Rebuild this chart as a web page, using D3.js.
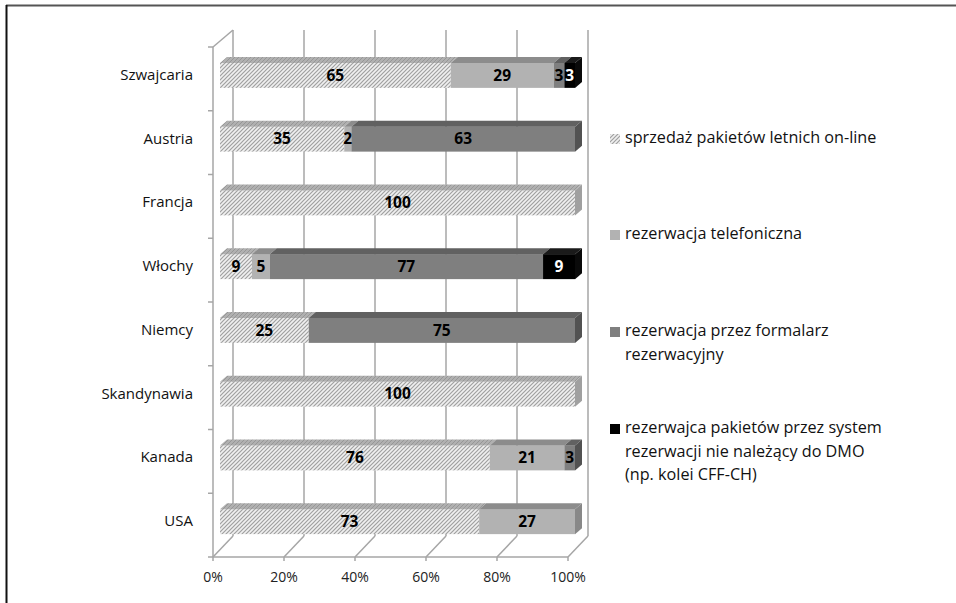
<!DOCTYPE html>
<html>
<head>
<meta charset="utf-8">
<script src="https://cdn.jsdelivr.net/npm/d3@7"></script>
<style>
  html, body { margin: 0; padding: 0; background: #fff; }
  svg { display: block; font-family: "Open Sans", sans-serif; }
</style>
</head>
<body>
<svg id="chart" width="956" height="603"></svg>
<script>
// Countries, top to bottom
const categories = ["Szwajcaria", "Austria", "Francja", "Włochy", "Niemcy", "Skandynawia", "Kanada", "USA"];

// Series (percent share per country)
const seriesNames = [
  "sprzedaż pakietów letnich on-line",
  "rezerwacja telefoniczna",
  "rezerwacja przez formalarz rezerwacyjny",
  "rezerwajca pakietów przez system rezerwacji nie należący do DMO (np. kolei CFF-CH)"
];
const onlineSales   = [65, 35, 100, 9, 25, 100, 76, 73];
const phoneBooking  = [29, 2, 0, 5, 0, 0, 21, 27];
const formBooking   = [3, 63, 0, 77, 75, 0, 3, 0];
const externalSys   = [3, 0, 0, 9, 0, 0, 0, 0];

const xTicks = [0, 20, 40, 60, 80, 100];
const xTickLabels = ["0%", "20%", "40%", "60%", "80%", "100%"];

// Legend text, wrapped as drawn
const legendLines = [
  ["sprzedaż pakietów letnich on-line"],
  ["rezerwacja telefoniczna"],
  ["rezerwacja przez formalarz", "rezerwacyjny"],
  ["rezerwajca pakietów przez system", "rezerwacji nie należący do DMO", "(np. kolei CFF-CH)"]
];

const seriesValues = [onlineSales, phoneBooking, formBooking, externalSys];

const svg = d3.select("#chart");

// Hatch pattern for on-line sales
const defs = svg.append("defs");
const pat = defs.append("pattern")
  .attr("id", "hatch").attr("patternUnits", "userSpaceOnUse")
  .attr("width", 4).attr("height", 4);
pat.append("rect").attr("width", 4).attr("height", 4).attr("fill", "#f0f0f0");
pat.append("path").attr("d", "M-1,1 l2,-2 M0,4 l4,-4 M3,5 l2,-2")
  .attr("stroke", "#a0a0a0").attr("stroke-width", 1.2);
const patTop = defs.append("pattern")
  .attr("id", "hatchTop").attr("patternUnits", "userSpaceOnUse")
  .attr("width", 4).attr("height", 4);
patTop.append("rect").attr("width", 4).attr("height", 4).attr("fill", "#b0b0b0");
patTop.append("path").attr("d", "M-1,1 l2,-2 M0,4 l4,-4 M3,5 l2,-2")
  .attr("stroke", "#969696").attr("stroke-width", 1);

const styles = [
  { front: "url(#hatch)", top: "url(#hatchTop)", side: "#a0a0a0", text: "#000" },
  { front: "#b2b2b2", top: "#8c8c8c", side: "#888888", text: "#000" },
  { front: "#7f7f7f", top: "#616161", side: "#525252", text: "#000" },
  { front: "#000000", top: "#1a1a1a", side: "#0a0a0a", text: "#fff" }
];

// Frame
svg.append("line").attr("x1", 6).attr("y1", 5.5).attr("x2", 956).attr("y2", 5.5)
  .attr("stroke", "#555").attr("stroke-width", 2);
svg.append("line").attr("x1", 6.5).attr("y1", 5).attr("x2", 6.5).attr("y2", 603)
  .attr("stroke", "#111").attr("stroke-width", 2);

// Scales
const x = d3.scaleLinear().domain([0, 100]).range([213, 568]);
const y = d3.scaleBand().domain(categories).range([47, 557]);

// 3D geometry: floor depth and bar plane
const depth = { dx: 20, dy: -21 };
const barShift = { dx: 7, dy: -3.5 };
const barDepth = { dx: 7, dy: -6 };
const barH = 25;
const gridColor = "#a6a6a6";

const g = svg.append("g");

// Back wall gridlines
g.selectAll(".grid").data(xTicks).join("line")
  .attr("x1", d => x(d) + depth.dx).attr("x2", d => x(d) + depth.dx)
  .attr("y1", 30).attr("y2", 557 + depth.dy)
  .attr("stroke", gridColor).attr("stroke-width", 1.5);
// Floor lines
g.selectAll(".floor").data(xTicks).join("line")
  .attr("x1", d => x(d)).attr("y1", 557)
  .attr("x2", d => x(d) + depth.dx).attr("y2", 557 + depth.dy)
  .attr("stroke", gridColor).attr("stroke-width", 1.5);
// Front floor edge and ticks
g.append("line").attr("x1", x(0)).attr("x2", x(100)).attr("y1", 557).attr("y2", 557)
  .attr("stroke", gridColor).attr("stroke-width", 1.5);
g.selectAll(".xtick").data(xTicks).join("line")
  .attr("x1", d => x(d)).attr("x2", d => x(d)).attr("y1", 557).attr("y2", 561)
  .attr("stroke", gridColor).attr("stroke-width", 1.5);
// Left wall edge
g.append("line").attr("x1", x(0)).attr("x2", x(0)).attr("y1", 47).attr("y2", 557)
  .attr("stroke", gridColor).attr("stroke-width", 1.5);
g.append("line").attr("x1", x(0)).attr("y1", 47).attr("x2", x(0) + depth.dx).attr("y2", 30)
  .attr("stroke", gridColor).attr("stroke-width", 1.5);
const bounds = categories.map(c => y(c)).concat([557]);
g.selectAll(".ytick").data(bounds).join("line")
  .attr("x1", x(0) - 5).attr("x2", x(0)).attr("y1", d => d).attr("y2", d => d)
  .attr("stroke", gridColor).attr("stroke-width", 1.5);

// X labels
g.selectAll(".xlab").data(xTicks).join("text")
  .attr("x", d => x(d)).attr("y", 578).attr("text-anchor", "middle")
  .attr("dominant-baseline", "middle").attr("font-size", 14).attr("fill", "#222")
  .text((d, i) => xTickLabels[i]);

// Category labels
g.selectAll(".ylab").data(categories).join("text")
  .attr("x", 193).attr("y", d => y(d) + y.bandwidth() / 2 - 3)
  .attr("text-anchor", "end").attr("dominant-baseline", "middle")
  .attr("font-size", 15).attr("fill", "#111").text(d => d);

// Stacked segments
const xb = v => x(v) + barShift.dx;
const bars = g.append("g");
categories.forEach((cat, ci) => {
  const cy = y(cat) + y.bandwidth() / 2 + barShift.dy;
  const top = cy - barH / 2, bot = cy + barH / 2;
  let acc = 0;
  const segs = [];
  seriesValues.forEach((vals, si) => {
    const v = vals[ci];
    if (v > 0) { segs.push({ si, v, x0: acc, x1: acc + v }); acc += v; }
  });
  segs.forEach(s => {
    const st = styles[s.si];
    const X0 = xb(s.x0), X1 = xb(s.x1);
    bars.append("rect").attr("x", X0).attr("y", top).attr("width", X1 - X0).attr("height", barH)
      .attr("fill", st.front);
    bars.append("path")
      .attr("d", `M${X0},${top}L${X1},${top}L${X1 + barDepth.dx},${top + barDepth.dy}L${X0 + barDepth.dx},${top + barDepth.dy}Z`)
      .attr("fill", st.top);
  });
  const last = segs[segs.length - 1];
  const XE = xb(last.x1);
  bars.append("path")
    .attr("d", `M${XE},${top}L${XE + barDepth.dx},${top + barDepth.dy}L${XE + barDepth.dx},${bot + barDepth.dy}L${XE},${bot}Z`)
    .attr("fill", styles[last.si].side);
  segs.forEach(s => {
    bars.append("text")
      .attr("x", (xb(s.x0) + xb(s.x1)) / 2).attr("y", cy + 1)
      .attr("text-anchor", "middle").attr("dominant-baseline", "middle")
      .attr("font-size", 15.5).attr("font-weight", "bold").attr("fill", styles[s.si].text)
      .text(s.v);
  });
});

// Legend
const legendY = [139, 235, 332, 429];
const leg = svg.append("g");
legendLines.forEach((lines, i) => {
  leg.append("rect").attr("x", 610).attr("y", legendY[i] - 5).attr("width", 10).attr("height", 10)
    .attr("fill", i === 0 ? "url(#hatch)" : styles[i].front);
  lines.forEach((t, j) => {
    leg.append("text").attr("x", 625).attr("y", legendY[i] + j * 23.5)
      .attr("dominant-baseline", "middle").attr("font-size", 16.2).attr("fill", "#111").text(t);
  });
});
</script>
</body>
</html>
